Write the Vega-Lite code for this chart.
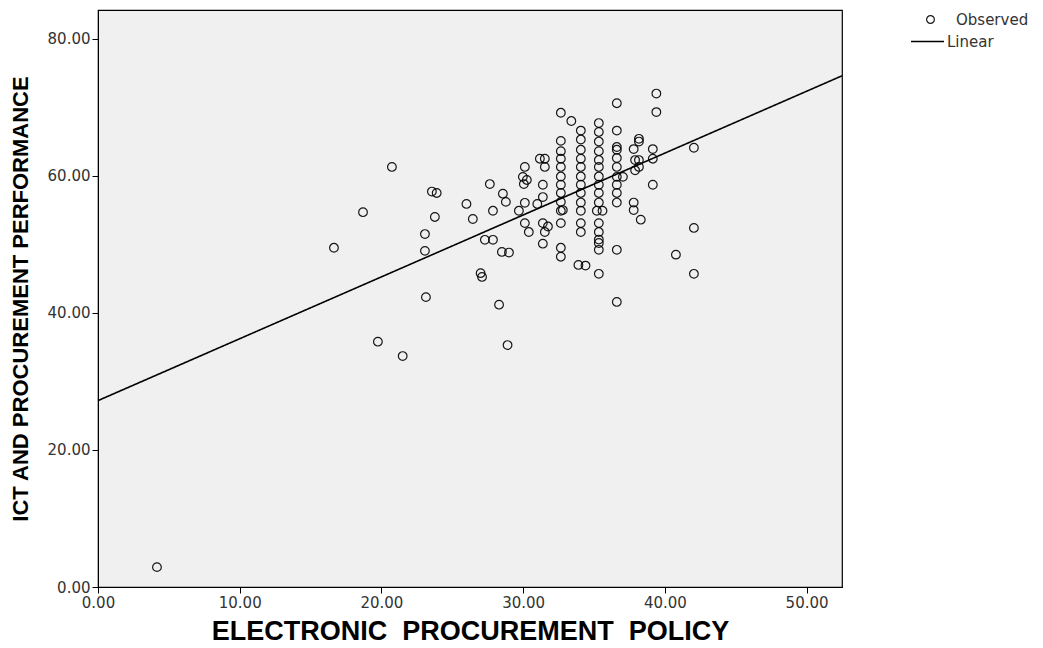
{
  "$schema": "https://vega.github.io/schema/vega-lite/v6.json",
  "autosize": "none",
  "width": 744,
  "height": 577,
  "padding": {"left": 98, "top": 10, "right": 201, "bottom": 61},
  "background": "white",
  "config": {
    "view": {"fill": "#f0f0f0", "stroke": "black", "strokeWidth": 1.2},
    "axis": {"grid": false, "domainColor": "black", "tickColor": "black", "labelColor": "#333", "labelFont": "DejaVu Sans", "labelFontSize": 15, "tickSize": 6, "labelFlush": false, "titleColor": "black", "titleFontWeight": "bold"},
    "legend": {"labelFont": "DejaVu Sans", "labelFontSize": 15, "labelColor": "#333", "padding": 0}
  },
  "datasets": {
    "obs": [
      {"x":4.16,"y":2.9},{"x":16.65,"y":49.5},{"x":18.7,"y":54.7},{"x":20.74,"y":61.3},{"x":19.75,"y":35.8},{"x":21.5,"y":33.7},
      {"x":23.07,"y":51.5},{"x":23.07,"y":49.05},{"x":23.14,"y":42.3},{"x":23.56,"y":57.7},{"x":23.9,"y":57.5},{"x":23.77,"y":54.0},
      {"x":26.0,"y":55.9},{"x":26.45,"y":53.7},{"x":27.65,"y":58.8},{"x":27.87,"y":54.9},{"x":27.3,"y":50.66},{"x":27.87,"y":50.66},
      {"x":27.0,"y":45.8},{"x":27.1,"y":45.25},{"x":28.3,"y":41.2},{"x":28.9,"y":35.3},{"x":28.5,"y":48.9},{"x":29.0,"y":48.8},
      {"x":28.57,"y":57.4},{"x":28.78,"y":56.2},{"x":29.7,"y":54.9},{"x":30.12,"y":61.3},{"x":29.98,"y":59.85},{"x":30.26,"y":59.4},
      {"x":30.05,"y":58.8},{"x":30.12,"y":56.06},{"x":30.12,"y":53.1},{"x":30.4,"y":51.8},{"x":31.0,"y":55.9},{"x":31.18,"y":62.5},
      {"x":31.53,"y":62.5},{"x":31.53,"y":61.3},{"x":31.39,"y":58.7},{"x":31.39,"y":56.9},{"x":31.39,"y":53.1},{"x":31.75,"y":52.6},
      {"x":31.53,"y":51.8},{"x":31.39,"y":50.1},
      {"x":32.66,"y":69.2},{"x":32.66,"y":65.1},{"x":32.66,"y":63.6},{"x":32.66,"y":62.5},{"x":32.66,"y":61.3},{"x":32.66,"y":59.9},
      {"x":32.66,"y":58.7},{"x":32.66,"y":57.5},{"x":32.66,"y":56.2},{"x":32.66,"y":54.9},{"x":32.8,"y":55.0},{"x":32.66,"y":53.1},
      {"x":32.66,"y":49.5},{"x":32.66,"y":48.2},{"x":33.4,"y":68.0},
      {"x":34.07,"y":66.6},{"x":34.07,"y":65.3},{"x":34.07,"y":63.8},{"x":34.07,"y":62.5},{"x":34.07,"y":61.3},{"x":34.07,"y":59.9},
      {"x":34.07,"y":58.7},{"x":34.07,"y":57.5},{"x":34.07,"y":56.1},{"x":34.07,"y":54.9},{"x":34.07,"y":53.1},{"x":34.07,"y":51.8},
      {"x":33.9,"y":47.0},{"x":34.4,"y":46.9},
      {"x":35.34,"y":67.7},{"x":35.34,"y":66.4},{"x":35.34,"y":65.0},{"x":35.34,"y":63.6},{"x":35.34,"y":62.3},{"x":35.34,"y":61.3},
      {"x":35.34,"y":59.9},{"x":35.34,"y":58.7},{"x":35.34,"y":57.5},{"x":35.34,"y":56.1},{"x":35.34,"y":53.1},{"x":35.34,"y":51.8},
      {"x":35.34,"y":50.7},{"x":35.34,"y":50.2},{"x":35.34,"y":49.2},{"x":35.34,"y":45.7},{"x":35.2,"y":54.9},{"x":35.6,"y":54.9},
      {"x":36.61,"y":70.6},{"x":36.61,"y":66.6},{"x":36.61,"y":64.2},{"x":36.61,"y":63.8},{"x":36.61,"y":62.6},{"x":36.61,"y":61.3},
      {"x":36.61,"y":59.85},{"x":36.61,"y":58.7},{"x":36.61,"y":57.5},{"x":36.61,"y":56.1},{"x":36.61,"y":49.2},{"x":36.61,"y":41.6},
      {"x":37.04,"y":59.85},
      {"x":38.17,"y":65.4},{"x":38.17,"y":65.0},{"x":38.17,"y":62.3},{"x":38.17,"y":61.3},{"x":37.9,"y":62.3},{"x":37.8,"y":63.9},
      {"x":37.8,"y":56.1},{"x":37.8,"y":55.0},{"x":38.3,"y":53.6},{"x":37.9,"y":60.8},
      {"x":39.4,"y":72.0},{"x":39.4,"y":69.3},{"x":39.15,"y":63.9},{"x":39.15,"y":62.5},{"x":39.15,"y":58.7},
      {"x":42.05,"y":64.1},{"x":42.05,"y":52.4},{"x":42.05,"y":45.7},{"x":40.78,"y":48.5}
    ],
    "fit": [{"x": 0, "y": 27.2}, {"x": 52.5, "y": 74.6}]
  },
  "layer": [
    {
      "data": {"name": "obs"},
      "mark": {"type": "point", "shape": "circle", "filled": false, "stroke": "black", "strokeWidth": 1.2, "size": 75, "opacity": 0.9},
      "encoding": {
        "x": {"field": "x", "type": "quantitative", "scale": {"domain": [0, 52.5], "nice": false, "zero": false},
              "axis": {"values": [0, 10, 20, 30, 40, 50], "format": ".2f", "title": "ELECTRONIC\u00a0\u00a0PROCUREMENT\u00a0\u00a0POLICY", "titleFont": "Liberation Sans", "titleFontSize": 27, "titlePadding": 8}},
        "y": {"field": "y", "type": "quantitative", "scale": {"domain": [0, 84.2], "nice": false, "zero": false},
              "axis": {"values": [0, 20, 40, 60, 80], "format": ".2f", "title": "ICT AND PROCUREMENT PERFORMANCE", "titleFont": "Liberation Sans", "titleFontSize": 22, "titleX": -66}},
        "shape": {"datum": "Observed", "type": "nominal", "scale": {"domain": ["Observed"], "range": ["circle"]},
                  "legend": {"title": null, "orient": "none", "legendX": 825, "legendY": 2, "symbolSize": 60, "symbolStrokeColor": "black", "symbolStrokeWidth": 1.2, "labelOffset": 18}}
      }
    },
    {
      "data": {"name": "fit"},
      "mark": {"type": "line", "color": "black", "strokeWidth": 1.6},
      "encoding": {
        "x": {"field": "x", "type": "quantitative"},
        "y": {"field": "y", "type": "quantitative"},
        "strokeDash": {"datum": "Linear", "type": "nominal", "scale": {"domain": ["Linear"], "range": [[1, 0]]},
                       "legend": {"title": null, "orient": "none", "legendX": 812, "legendY": 14, "symbolType": "stroke", "symbolSize": 1089, "symbolStrokeColor": "black", "symbolStrokeWidth": 1.3, "labelOffset": 2}}
      }
    }
  ],
  "resolve": {"legend": {"shape": "independent", "strokeDash": "independent"}}
}
